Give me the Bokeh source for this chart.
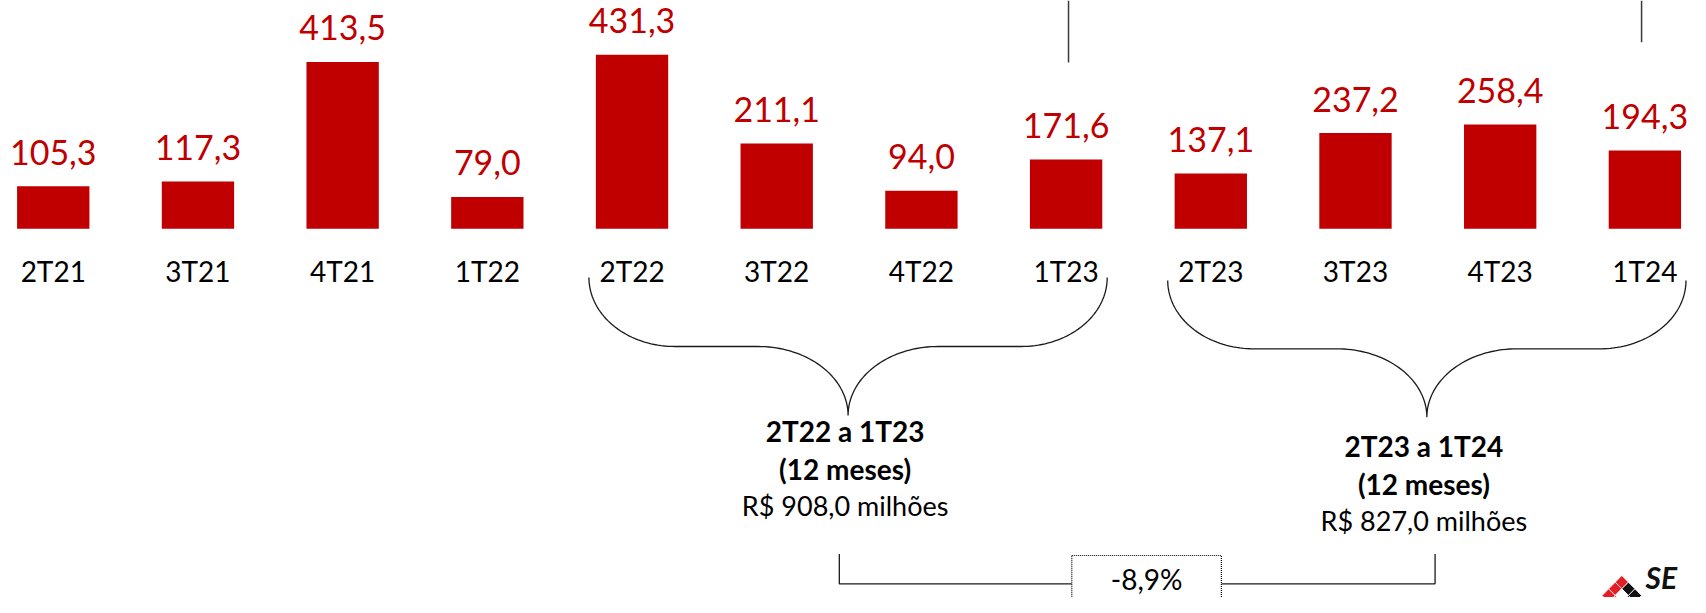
import numpy as np
from bokeh.plotting import figure
from bokeh.models import Range1d
from bokeh.embed import file_html
from bokeh.resources import INLINE
from bokeh.core.properties import value

# ---------------- data ----------------
categories = ["2T21", "3T21", "4T21", "1T22", "2T22", "3T22",
              "4T22", "1T23", "2T23", "3T23", "4T23", "1T24"]
values = [105.3, 117.3, 413.5, 79.0, 431.3, 211.1,
          94.0, 171.6, 137.1, 237.2, 258.4, 194.3]
group_a = ["2T22", "3T22", "4T22", "1T23"]
group_b = ["2T23", "3T23", "4T23", "1T24"]


def br(v, d=1):
    return f"{v:.{d}f}".replace(".", ",")


value_labels = [br(v) for v in values]
ia = [categories.index(c) for c in group_a]
ib = [categories.index(c) for c in group_b]
sum_a = sum(values[i] for i in ia)
sum_b = sum(values[i] for i in ib)
change = (sum_b / sum_a - 1) * 100

# ---------------- layout ----------------
W, H = 1690, 597
SX = 0.988                 # slight horizontal squeeze so the last bar and label fit
X0, DX = 53.4, 146.45      # reference x of first bar centre, bar spacing
Y0, KY = 228.3, 0.4035     # reference y of baseline, px per unit
BAR_W = 0.5
RED = "#C00000"
FONT = value("Lato")
TDY = 12                   # text baseline correction (px)


def X(px):
    return (px - X0) / DX


def Y(py):
    return (Y0 - py) / KY


def YT(py):
    return Y(py - TDY)


def PX(x):
    return X0 + DX * x


p = figure(width=W, height=H,
           x_range=Range1d(X(0), X(W / SX)),
           y_range=Range1d(Y(H), Y(0)),
           output_backend="svg", toolbar_location=None,
           x_axis_type=None, y_axis_type=None, min_border=0)
p.grid.visible = False
p.outline_line_color = None
p.background_fill_color = "white"

idx = list(range(len(categories)))

# bars
p.vbar(x=idx, top=values, bottom=0, width=BAR_W, fill_color=RED, line_color=None)

# value labels
p.text(x=idx, y=[v + (22 + TDY) / KY for v in values], text=value_labels,
       text_font=FONT, text_font_size="34px", text_color=RED,
       text_align="center", text_baseline="alphabetic")

# category labels
p.text(x=idx, y=[YT(282)] * len(idx), text=categories,
       text_font=FONT, text_font_size="28px", text_color="#000000",
       text_align="center", text_baseline="alphabetic")

# top connector stubs
p.segment(x0=[X(1081), X(1661)], y0=[Y(0), Y(0)],
          x1=[X(1081), X(1661)], y1=[Y(62), Y(41.7)],
          line_color="#3a3a3a", line_width=1.5)


def brace(xl, xr, ytop, yflat, ycusp):
    half = (xr - xl) / 2
    xm = (xl + xr) / 2
    ro = 87 / 262 * half
    ri = 91 / 262 * half
    t = np.linspace(0, np.pi / 2, 40)
    lx1 = xl + ro - ro * np.cos(t)
    ly1 = ytop + (yflat - ytop) * np.sin(t)
    lx2 = xm - ri + ri * np.sin(t)
    ly2 = ycusp - (ycusp - yflat) * np.cos(t)
    xs_l = np.concatenate([lx1, lx2])
    ys_l = np.concatenate([ly1, ly2])
    xs_r = 2 * xm - xs_l[::-1]
    ys_r = ys_l[::-1]
    xs = np.concatenate([xs_l, xs_r])
    ys = np.concatenate([ys_l, ys_r])
    return [X(v) for v in xs], [Y(v) for v in ys], xm


half_bar_px = BAR_W * DX / 2
groups = [
    (ia, 277, 346, 415, (442, 480, 517), sum_a),
    (ib, 280, 348.3, 416.7, (457, 495, 532), sum_b),
]
for ids, ytop, yflat, ycusp, bases, total in groups:
    first, last = categories[ids[0]], categories[ids[-1]]
    xl = PX(ids[0]) - half_bar_px - 7
    xr = PX(ids[-1]) + half_bar_px + 5
    bx, by, xm = brace(xl, xr, ytop, yflat, ycusp)
    p.line(bx, by, line_color="#1a1a1a", line_width=1.3)
    tx = X(xm - 3)
    p.text(x=[tx, tx], y=[YT(bases[0]), YT(bases[1])],
           text=[f"{first} a {last}", "(12 meses)"],
           text_font=FONT, text_font_style="bold", text_font_size="28px",
           text_color="#000000", text_align="center", text_baseline="alphabetic")
    p.text(x=[tx], y=[YT(bases[2])], text=[f"R$ {br(total)} milhões"],
           text_font=FONT, text_font_size="27px",
           text_color="#000000", text_align="center", text_baseline="alphabetic")

# comparison connector
box_l, box_r, box_t, box_b = 1084.3, 1235.7, 555, 620
yl = 583.3
p.line([X(849), X(849), X(box_l)], [Y(553.5), Y(yl), Y(yl)],
       line_color="#1a1a1a", line_width=1.3)
p.line([X(box_r), X(1452), X(1452)], [Y(yl), Y(yl), Y(553.5)],
       line_color="#1a1a1a", line_width=1.3)
p.quad(left=[X(box_l)], right=[X(box_r)], top=[Y(box_t)], bottom=[Y(box_b)],
       fill_color="white", line_color="#000000", line_width=1.2, line_dash="1 1")
p.text(x=[X((box_l + box_r) / 2)], y=[YT(590)], text=[f"{br(change)}%"],
       text_font=FONT, text_font_size="28px", text_color="#000000",
       text_align="center", text_baseline="alphabetic")

# logo (approximation)
lc_x, lc_y, s = 1641, 575, 20 / 3
cells_x, cells_y, cells_c = [], [], []
pattern = {(0, 0): "#E31E24", (0, 1): "#E31E24", (0, 2): "#E31E24",
           (1, 0): "#111111", (1, 1): "white", (1, 2): "#E31E24",
           (2, 0): "#111111", (2, 1): "#111111", (2, 2): "white"}
for (i, j), c in pattern.items():
    ccx = lc_x + (i - j) * s
    ccy = lc_y + s + (i + j) * s
    cells_x.append([X(ccx - s), X(ccx), X(ccx + s), X(ccx)])
    cells_y.append([Y(ccy), Y(ccy - s), Y(ccy), Y(ccy + s)])
    cells_c.append(c)
p.patches(cells_x, cells_y, fill_color=cells_c, line_color="white", line_width=0.8)
p.text(x=[X(1665)], y=[YT(588)], text=["SE"], text_font=FONT,
       text_font_style="bold italic", text_font_size="30px", text_color="#111111",
       text_align="left", text_baseline="alphabetic")

open("out.html", "w").write(file_html(p, INLINE))
